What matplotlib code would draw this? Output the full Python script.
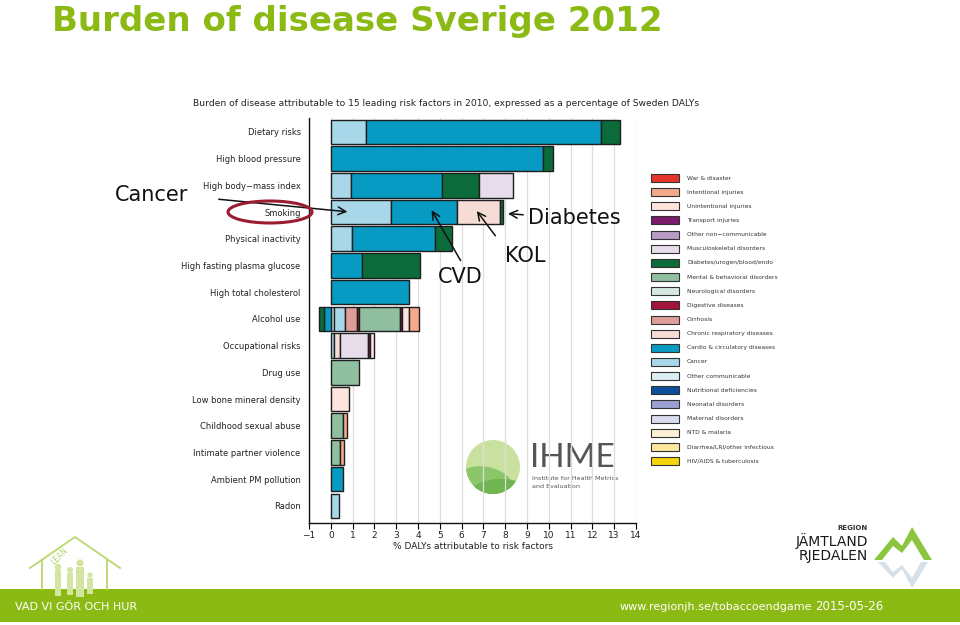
import matplotlib
matplotlib.use("Agg")
import matplotlib.pyplot as plt
import numpy as np
from matplotlib.patches import Rectangle, Ellipse, Circle, Polygon

# ---------------- data ----------------
risk_factors = ["Dietary risks", "High blood pressure", "High body\u2212mass index", "Smoking",
                "Physical inactivity", "High fasting plasma glucose", "High total cholesterol",
                "Alcohol use", "Occupational risks", "Drug use", "Low bone mineral density",
                "Childhood sexual abuse", "Intimate partner violence", "Ambient PM pollution", "Radon"]

# % of DALYs, per cause group, one value per risk factor (same order as risk_factors)
other_communicable = [0, 0, 0, 0, 0, 0, 0, 0.15, 0, 0, 0, 0, 0, 0, 0]
cancer             = [1.6, 0, 0.92, 2.78, 0.98, 0, 0, 0.52, 0.15, 0, 0, 0, 0, 0, 0.38]
cardio             = [10.8, 9.75, 4.19, 3.0, 3.79, 1.45, 3.58, -0.31, 0, 0, 0, 0, 0, 0.58, 0]
chronic_resp       = [0, 0, 0, 1.96, 0, 0, 0, 0, 0.25, 0, 0, 0, 0, 0, 0]
cirrhosis          = [0, 0, 0, 0, 0, 0, 0, 0.52, 0, 0, 0, 0, 0, 0, 0]
digestive          = [0, 0, 0, 0, 0, 0, 0, 0.12, 0, 0, 0, 0, 0, 0, 0]
mental             = [0, 0, 0, 0, 0, 0, 0, 1.87, 0, 1.31, 0, 0.58, 0.40, 0, 0]
diabetes           = [0.87, 0.43, 1.68, 0.15, 0.78, 2.63, 0, -0.24, 0, 0, 0, 0, 0, 0, 0]
musculoskeletal    = [0, 0, 1.59, 0, 0, 0, 0, 0, 1.32, 0, 0, 0, 0, 0, 0]
transport          = [0, 0, 0, 0, 0, 0, 0, 0.09, 0.10, 0, 0, 0, 0, 0, 0]
unintentional      = [0, 0, 0, 0, 0, 0, 0, 0.31, 0.14, 0, 0.83, 0, 0, 0, 0]
intentional        = [0, 0, 0, 0, 0, 0, 0, 0.46, 0, 0, 0, 0.15, 0.21, 0, 0]

x_ticks = list(range(-1, 15))

legend_names = ["War & disaster", "Intentional injuries", "Unintentional injuries", "Transport injuries",
                "Other non\u2212communicable", "Musculoskeletal disorders", "Diabetes/urogen/blood/endo",
                "Mental & behavioral disorders", "Neurological disorders", "Digestive diseases",
                "Cirrhosis", "Chronic respiratory diseases", "Cardio & circulatory diseases", "Cancer",
                "Other communicable", "Nutritional deficiencies", "Neonatal disorders",
                "Maternal disorders", "NTD & malaria", "Diarrhea/LRI/other infectious",
                "HIV/AIDS & tuberculosis"]
legend_colors = ["#e5352b", "#f4a98a", "#fde4dc", "#7a1b6c", "#b89ac5", "#e6dcea", "#0b6b3a",
                 "#8fbf9f", "#d6e7e1", "#a3133b", "#de9d98", "#f6dcd5", "#079bc3", "#a7d7e9",
                 "#dcedf3", "#0c4f9a", "#9aa0cf", "#d9dcee", "#fdf2d4", "#fde79c", "#f4d50b"]
cmap = dict(zip(legend_names, legend_colors))

series = [("Other communicable", other_communicable), ("Cancer", cancer),
          ("Cardio & circulatory diseases", cardio), ("Chronic respiratory diseases", chronic_resp),
          ("Cirrhosis", cirrhosis), ("Digestive diseases", digestive),
          ("Mental & behavioral disorders", mental), ("Diabetes/urogen/blood/endo", diabetes),
          ("Musculoskeletal disorders", musculoskeletal), ("Transport injuries", transport),
          ("Unintentional injuries", unintentional), ("Intentional injuries", intentional)]

GREEN = "#8cba14"

# ---------------- figure ----------------
W, H = 960, 625
fig = plt.figure(figsize=(9.6, 6.25), dpi=100)
fig.patch.set_facecolor("white")

def px(x0, y0, x1, y1):
    return [x0 / W, 1 - y1 / H, (x1 - x0) / W, (y1 - y0) / H]

# background overlay (pixel coordinates)
bg = fig.add_axes([0, 0, 1, 1], zorder=0)
bg.set_xlim(0, W); bg.set_ylim(H, 0); bg.axis("off")

ax = fig.add_axes(px(309, 118, 636, 523), zorder=2)
ax.patch.set_alpha(0)

y = np.arange(len(risk_factors))
pos = np.zeros(len(risk_factors))
neg = np.zeros(len(risk_factors))
for name, vals in series:
    v = np.array(vals, dtype=float)
    left = np.where(v >= 0, pos, neg + v)
    w = np.abs(v)
    mask = w > 0
    ax.barh(y[mask], w[mask], left=left[mask], height=0.92, color=cmap[name],
            edgecolor="#1e1e1e", linewidth=1.0, zorder=3)
    pos = np.where(v >= 0, pos + v, pos)
    neg = np.where(v < 0, neg + v, neg)

ax.set_xlim(-1, 14)
ax.set_ylim(14.64, -0.52)
ax.set_xticks(x_ticks)
ax.set_xticklabels([("\u22121" if t < 0 else str(t)) for t in x_ticks], fontsize=6.5, color="#222")
ax.set_yticks(y)
ax.set_yticklabels(risk_factors, fontsize=6.0, color="#222")
ax.tick_params(axis="y", length=0, pad=6)
ax.tick_params(axis="x", length=4, width=0.8, direction="out", pad=2)
ax.xaxis.grid(True, color="#dddddd", linewidth=0.9, zorder=0)
ax.set_axisbelow(True)
for s in ["top", "right"]:
    ax.spines[s].set_visible(False)
for s in ["left", "bottom"]:
    ax.spines[s].set_color("#111")
    ax.spines[s].set_linewidth(1.0)
ax.set_xlabel("% DALYs attributable to risk factors", fontsize=6.5, color="#222", labelpad=1)

# chart subtitle
fig.text(193 / W, 1 - 104 / H, "Burden of disease attributable to 15 leading risk factors in 2010, "
         "expressed as a percentage of Sweden DALYs", fontsize=6.6, color="#222",
         va="center", ha="left")

# slide title
fig.text(52 / W, 1 - 21 / H, "Burden of disease Sverige 2012", fontsize=24.5, fontweight="bold",
         color=GREEN, va="center", ha="left")

# legend (pixel coordinates)
for i, (nm, c) in enumerate(zip(legend_names, legend_colors)):
    yy = 178 + i * 14.15
    bg.add_patch(Rectangle((651, yy - 4), 28, 8, facecolor=c, edgecolor="#333", linewidth=0.8))
    bg.text(687, yy, nm, fontsize=4.3, color="#333", va="center", ha="left")

# IHME logo
bg.add_patch(Circle((493, 467), 27, facecolor="#c9e19e", edgecolor="none"))
clip = Circle((493, 467), 27, transform=bg.transData)
e1 = Ellipse((486, 482), 54, 30, angle=12, facecolor="#8bc66a", edgecolor="none")
e2 = Ellipse((497, 490), 52, 22, angle=-5, facecolor="#6fb552", edgecolor="none")
for e in (e1, e2):
    bg.add_patch(e)
    e.set_clip_path(clip)
bg.text(530, 458, "IHME", fontsize=24, color="#555555", fontweight="normal",
        family=["Lato", "DejaVu Sans"], va="center", ha="left")
bg.text(532, 478, "Institute for Health Metrics", fontsize=4.6, color="#555", va="center", ha="left")
bg.text(532, 487, "and Evaluation", fontsize=4.6, color="#555", va="center", ha="left")

# big annotations
fig.text(115 / W, 1 - 195 / H, "Cancer", fontsize=15, color="#111", va="center", ha="left")
fig.text(438 / W, 1 - 277 / H, "CVD", fontsize=15, color="#111", va="center", ha="left")
fig.text(505 / W, 1 - 256 / H, "KOL", fontsize=15, color="#111", va="center", ha="left")
fig.text(528 / W, 1 - 218 / H, "Diabetes", fontsize=15, color="#111", va="center", ha="left")

arrow_kw = dict(arrowstyle="->", color="#111", lw=1.1, mutation_scale=14)
smoke = risk_factors.index("Smoking")
for tip, tail in [((0.89, smoke), (216, 199)), ((4.56, smoke - 0.16), (462, 263)),
                  ((6.62, smoke - 0.12), (497, 238)), ((8.0, smoke + 0.05), (526, 215))]:
    ax.annotate("", xy=tip, xycoords="data", xytext=(tail[0], H - tail[1]),
                textcoords="figure pixels", arrowprops=arrow_kw, annotation_clip=False, zorder=6)

# red ellipse around Smoking
top = fig.add_axes([0, 0, 1, 1], zorder=5)
top.set_xlim(0, W); top.set_ylim(H, 0); top.axis("off"); top.patch.set_alpha(0)
top.add_patch(Ellipse((270, 212), 84, 22, facecolor="none", edgecolor="#9b1c31", linewidth=2.2))

# footer band
bg.add_patch(Rectangle((0, 589), W, 33, facecolor=GREEN, edgecolor="none"))
bg.text(15, 607, "VAD VI G\u00d6R OCH HUR", fontsize=8, color="white", va="center", ha="left")
bg.text(620, 607, "www.regionjh.se/tobaccoendgame", fontsize=8, color="white", va="center", ha="left")
bg.text(815, 607, "2015-05-26", fontsize=8.5, color="white", va="center", ha="left")

# house logo (bottom-left)
LG = "#b9d76e"
bg.plot([30, 75, 120], [568, 537, 568], color=LG, lw=1.3)
bg.plot([42, 42], [560, 589], color=LG, lw=1.3)
bg.plot([107, 107], [560, 589], color=LG, lw=1.3)
bg.text(60, 556, "LEAN", fontsize=5.5, color=LG, rotation=45, va="center", ha="center")
for cx, cy, r, h in [(58, 567, 3.2, 26), (70, 570, 3.0, 22), (80, 563, 3.6, 30), (90, 575, 2.6, 16)]:
    bg.add_patch(Circle((cx, cy), r, facecolor="#d3e6a0", edgecolor="none"))
    bg.add_patch(Rectangle((cx - r, cy + r), 2 * r, h, facecolor="#d3e6a0", edgecolor="none"))

# region logo (bottom-right)
bg.text(868, 528, "REGION", fontsize=5, color="#333", fontweight="bold", va="center", ha="right")
bg.text(868, 541, "J\u00c4MTLAND", fontsize=10, color="#1a1a1a", va="center", ha="right")
bg.text(868, 556, "RJEDALEN", fontsize=10, color="#1a1a1a", va="center", ha="right")
bg.add_patch(Polygon([(874, 560), (893, 537), (902, 546), (912, 527), (932, 560), (924, 560),
                      (912, 540), (902, 553), (893, 546), (882, 560)],
                     facecolor="#8cc63f", edgecolor="none"))
bg.add_patch(Polygon([(878, 562), (893, 578), (902, 569), (912, 588), (928, 562), (921, 562),
                      (912, 578), (902, 565), (893, 572), (885, 562)],
                     facecolor="#d5e0e8", edgecolor="none"))

fig.savefig("out.png", dpi=100, facecolor="white")
